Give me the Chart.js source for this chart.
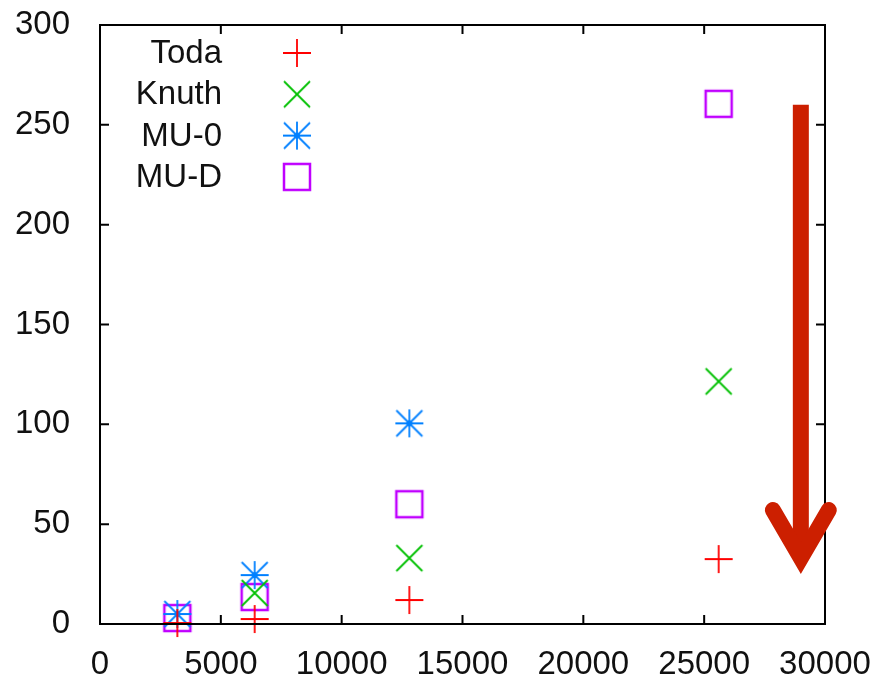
<!DOCTYPE html>
<html>
<head>
<meta charset="utf-8">
<script src="https://cdn.jsdelivr.net/npm/chart.js@4"></script>
<style>
  html, body { margin: 0; padding: 0; background: #fff; }
  #wrap { width: 874px; height: 679px; }
</style>
</head>
<body>
<div id="wrap"><canvas id="timeChart"></canvas></div>
<script>
// sizes (x) and run times
const sizes = [3200, 6400, 12800, 25600];
const todaTimes = [0.5, 2.5, 12, 32.5];
const knuthTimes = [null, 15.5, 33, 121.5];
const mu0Times = [5, 24.5, 100.5];
const muDTimes = [3, 13.5, 60, 260.5];

const seriesNames = ["Toda", "Knuth", "MU-0", "MU-D"];
const xTicks = [0, 5000, 10000, 15000, 20000, 25000, 30000];
const yTicks = [0, 50, 100, 150, 200, 250, 300];

// the red arrow, in axis units
const arrowX = 29000;
const arrowTop = 260;
const arrowTip = 25;

const FONT = "Liberation Sans, Arial, sans-serif";

// gnuplot style point symbols drawn on small canvases
const makeMarker = (kind, color) => {
  const c = document.createElement("canvas");
  c.width = 36;
  c.height = 36;
  const ctx = c.getContext("2d");
  ctx.strokeStyle = color;
  ctx.fillStyle = color;
  ctx.lineWidth = 1.8;
  const m = 18;
  ctx.beginPath();
  if (kind == "plus" || kind == "star") {
    ctx.moveTo(m - 14, m);
    ctx.lineTo(m + 14, m);
    ctx.moveTo(m, m - 14);
    ctx.lineTo(m, m + 14);
  }
  if (kind == "cross" || kind == "star") {
    ctx.moveTo(m - 13, m - 13);
    ctx.lineTo(m + 13, m + 13);
    ctx.moveTo(m - 13, m + 13);
    ctx.lineTo(m + 13, m - 13);
  }
  if (kind == "square") {
    ctx.lineWidth = 2.5;
    ctx.rect(m - 13, m - 13, 26, 26);
  }
  ctx.stroke();
  if (kind == "star") {
    ctx.beginPath();
    ctx.arc(m, m, 3, 0, Math.PI * 2);
    ctx.fill();
  }
  return c;
};

const colors = ["#ff0000", "#00c000", "#0080ff", "#c000ff"];
const markers = [
  makeMarker("plus", colors[0]),
  makeMarker("cross", colors[1]),
  makeMarker("star", colors[2]),
  makeMarker("square", colors[3]),
];
const seriesValues = [todaTimes, knuthTimes, mu0Times, muDTimes];

let datasets = [];
let i = 0;
for (const values of seriesValues) {
  datasets.push({
    label: seriesNames[i],
    data: values.map((v, k) => ({ x: sizes[k], y: v })),
    pointStyle: markers[i],
    pointRadius: 14,
    showLine: false,
    clip: false,
    borderColor: colors[i],
    backgroundColor: colors[i],
  });
  i++;
}

// frame, inward ticks, key and arrow
const decorations = {
  id: "decorations",
  afterDatasetsDraw(chart) {
    const { ctx, chartArea: a, scales } = chart;
    ctx.save();
    ctx.strokeStyle = "#000";
    ctx.lineWidth = 2;
    ctx.strokeRect(a.left, a.top, a.right - a.left, a.bottom - a.top);
    ctx.beginPath();
    for (const v of xTicks) {
      const px = scales.x.getPixelForValue(v);
      ctx.moveTo(px, a.bottom);
      ctx.lineTo(px, a.bottom - 9);
      ctx.moveTo(px, a.top);
      ctx.lineTo(px, a.top + 9);
    }
    for (const v of yTicks) {
      const py = scales.y.getPixelForValue(v);
      ctx.moveTo(a.left, py);
      ctx.lineTo(a.left + 9, py);
      ctx.moveTo(a.right, py);
      ctx.lineTo(a.right - 9, py);
    }
    ctx.stroke();

    // key
    ctx.font = "33px " + FONT;
    ctx.fillStyle = "#111";
    ctx.textAlign = "right";
    ctx.textBaseline = "middle";
    for (let k = 0; k < seriesNames.length; k++) {
      const ky = a.top + 28 + k * 41.3;
      ctx.fillText(seriesNames[k], a.left + 122, ky + 1);
      ctx.drawImage(markers[k], a.left + 197 - 18, ky - 18);
    }

    // arrow
    const ax = scales.x.getPixelForValue(arrowX);
    const top = scales.y.getPixelForValue(arrowTop);
    const tip = scales.y.getPixelForValue(arrowTip);
    const vy = tip - 16;
    ctx.strokeStyle = "#cc1f00";
    ctx.lineWidth = 16;
    ctx.lineCap = "butt";
    ctx.beginPath();
    ctx.moveTo(ax, top);
    ctx.lineTo(ax, vy);
    ctx.stroke();
    ctx.lineCap = "round";
    ctx.lineJoin = "miter";
    ctx.beginPath();
    ctx.moveTo(ax - 28, vy - 48);
    ctx.lineTo(ax, vy);
    ctx.lineTo(ax + 28, vy - 48);
    ctx.stroke();
    ctx.restore();
  },
};

new Chart(document.getElementById("timeChart"), {
  type: "scatter",
  data: { datasets },
  options: {
    responsive: true,
    maintainAspectRatio: false,
    animation: false,
    layout: { padding: { top: 25, right: 49, left: 0, bottom: 0 } },
    plugins: {
      legend: { display: false },
      tooltip: { enabled: false },
    },
    scales: {
      x: {
        type: "linear",
        min: 0,
        max: 30000,
        afterBuildTicks: (scale) => {
          scale.ticks = xTicks.map((v) => ({ value: v }));
        },
        afterFit: (scale) => {
          scale.height = 55;
          scale.paddingLeft = 0;
          scale.paddingRight = 0;
        },
        grid: { display: false, drawTicks: false },
        border: { display: false },
        ticks: {
          padding: 21,
          color: "#111",
          maxRotation: 0,
          autoSkip: false,
          font: { family: FONT, size: 33 },
          callback: (v) => String(v),
        },
      },
      y: {
        type: "linear",
        min: 0,
        max: 300,
        afterBuildTicks: (scale) => {
          scale.ticks = yTicks.map((v) => ({ value: v }));
        },
        afterFit: (scale) => {
          scale.width = 100;
          scale.paddingTop = 0;
          scale.paddingBottom = 0;
        },
        grid: { display: false, drawTicks: false },
        border: { display: false },
        ticks: {
          padding: 30,
          color: "#111",
          autoSkip: false,
          font: { family: FONT, size: 33 },
          callback: (v) => String(v),
        },
      },
    },
  },
  plugins: [decorations],
});
</script>
</body>
</html>
